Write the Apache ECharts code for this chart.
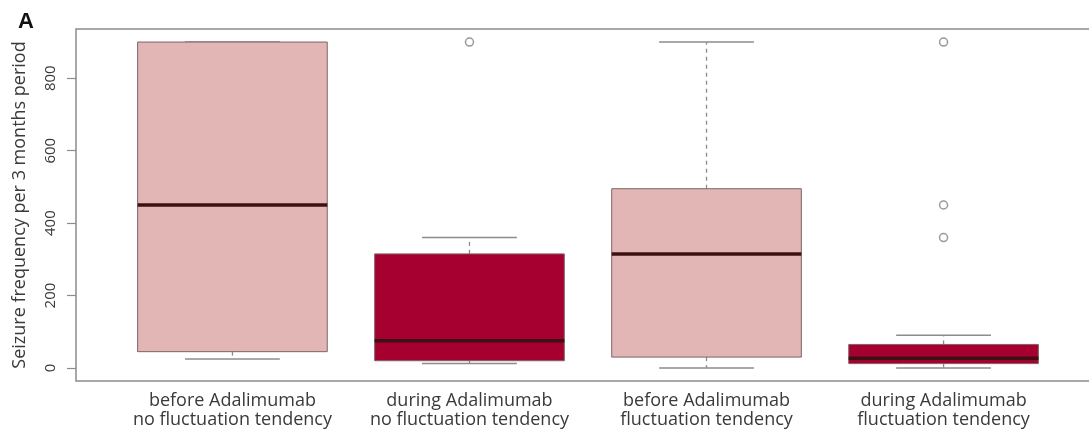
<!DOCTYPE html>
<html>
<head>
<meta charset="utf-8">
<script src="https://cdn.jsdelivr.net/npm/echarts@6/dist/echarts.min.js"></script>
<style>
  html, body { margin: 0; padding: 0; background: #fff; overflow: hidden; }
  #chart { width: 1089px; height: 434px; }
</style>
</head>
<body>
<div id="chart"></div>
<script>
// ---- data ----
const categories = [
  'before Adalimumab\nno fluctuation tendency',
  'during Adalimumab\nno fluctuation tendency',
  'before Adalimumab\nfluctuation tendency',
  'during Adalimumab\nfluctuation tendency'
];
const whiskerLow = [25, 12, 0, 0];
const q1 = [45, 20, 30, 12];
const median = [450, 75, 315, 27];
const q3 = [900, 315, 495, 65];
const whiskerHigh = [900, 360, 900, 90];
const outliers = [[], [900], [], [900, 450, 360]];
const yTicks = [0, 200, 400, 600, 800];
const yTitle = 'Seizure frequency per 3 months period';
const panelLabel = 'A';

// ---- styles ----
const lightFill = '#e2b6b4';
const darkFill = '#a5002f';
const fills = [lightFill, darkFill, lightFill, darkFill];
const frameColor = '#8c8c8c';
const font = '"Open Sans", "Noto Sans", sans-serif';

const boxData = categories.map((c, i) => [i + 1, whiskerLow[i], q1[i], median[i], q3[i], whiskerHigh[i]]);
const outlierData = [];
outliers.forEach((arr, i) => arr.forEach(v => outlierData.push([i + 1, v])));

const chart = echarts.init(document.getElementById('chart'), null, { renderer: 'canvas' });

chart.setOption({
  animation: false,
  backgroundColor: '#fff',
  title: {
    text: panelLabel,
    left: 13,
    top: 6,
    textStyle: { fontFamily: '"Liberation Sans", Arial, sans-serif', fontSize: 22, fontWeight: 'bold', color: '#111' }
  },
  grid: {
    left: 76,
    width: 1024,
    top: 29,
    height: 352,
    outerBoundsMode: 'none',
    containLabel: false,
    show: true,
    borderColor: frameColor,
    borderWidth: 1.5,
    backgroundColor: 'transparent'
  },
  xAxis: {
    type: 'value',
    min: 0.34,
    max: 4.66,
    splitLine: { show: false },
    axisLine: { show: false },
    axisTick: { show: false },
    axisLabel: {
      customValues: categories.map((c, i) => i + 1),
      formatter: v => categories[Math.round(v) - 1] || '',
      fontFamily: font,
      fontSize: 18,
      lineHeight: 19,
      color: '#3a3a3a',
      margin: 10
    }
  },
  yAxis: {
    type: 'value',
    min: -36,
    max: 936,
    splitLine: { show: false },
    axisLine: { show: false },
    axisTick: {
      show: true,
      inside: false,
      length: 9,
      customValues: yTicks,
      lineStyle: { color: frameColor, width: 1.2 }
    },
    axisLabel: {
      customValues: yTicks,
      rotate: 90,
      fontFamily: font,
      fontSize: 15,
      color: '#3a3a3a',
      margin: 18
    },
    name: yTitle,
    nameLocation: 'middle',
    nameRotate: 90,
    nameGap: 47,
    nameTextStyle: {
      fontFamily: font,
      fontSize: 18,
      color: '#3a3a3a'
    }
  },
  series: [
    {
      type: 'custom',
      data: boxData,
      encode: { x: 0, y: [1, 2, 3, 4, 5] },
      renderItem: function (params, api) {
        const x = api.value(0);
        const i = params.dataIndex;
        const w = api.size([0.8, 0])[0];
        const sw = w / 2;
        const pLo = api.coord([x, api.value(1)]);
        const pQ1 = api.coord([x, api.value(2)]);
        const pMed = api.coord([x, api.value(3)]);
        const pQ3 = api.coord([x, api.value(4)]);
        const pHi = api.coord([x, api.value(5)]);
        const cx = pMed[0];
        const whisk = { stroke: frameColor, lineWidth: 1.3, lineDash: [4, 4] };
        const staple = { stroke: frameColor, lineWidth: 1.5 };
        return {
          type: 'group',
          children: [
            { type: 'line', shape: { x1: cx, y1: pQ3[1], x2: cx, y2: pHi[1] }, style: whisk },
            { type: 'line', shape: { x1: cx, y1: pQ1[1], x2: cx, y2: pLo[1] }, style: whisk },
            { type: 'line', shape: { x1: cx - sw / 2, y1: pHi[1], x2: cx + sw / 2, y2: pHi[1] }, style: staple },
            { type: 'line', shape: { x1: cx - sw / 2, y1: pLo[1], x2: cx + sw / 2, y2: pLo[1] }, style: staple },
            {
              type: 'rect',
              shape: { x: cx - w / 2, y: pQ3[1], width: w, height: pQ1[1] - pQ3[1] },
              style: { fill: fills[i], stroke: '#7d6464', lineWidth: 1 }
            },
            {
              type: 'line',
              shape: { x1: cx - w / 2, y1: pMed[1], x2: cx + w / 2, y2: pMed[1] },
              style: { stroke: '#3e1014', lineWidth: 3.5 }
            }
          ]
        };
      }
    },
    {
      type: 'scatter',
      data: outlierData,
      symbol: 'circle',
      symbolSize: 8,
      itemStyle: { color: '#fff', borderColor: '#7f7f7f', borderWidth: 1.5 }
    }
  ]
});
</script>
</body>
</html>
